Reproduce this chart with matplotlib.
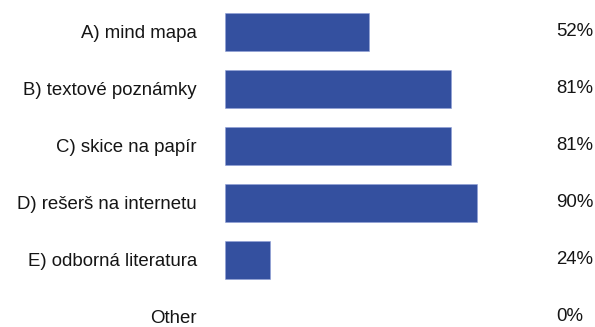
import matplotlib
matplotlib.use("Agg")
import matplotlib.pyplot as plt
import matplotlib.transforms as mtransforms

categories = ["A) mind mapa", "B) textové poznámky", "C) skice na papír",
              "D) rešerš na internetu", "E) odborná literatura", "Other"]
percent_labels = [52, 81, 81, 90, 24, 0]
# bar lengths as drawn in the reference (percent units)
bar_lengths = [51.4, 81, 81, 90.1, 16, 0]

plt.rcParams['font.family'] = ['Liberation Sans', 'DejaVu Sans']

W, H = 595, 327
fig = plt.figure(figsize=(W / 100, H / 100), dpi=100)
left_px, width_px = 225.3, 279.0
row_px = 57.0
top_px = 31.7 - 0.5 * row_px
ymin, ymax = -0.5, 5.2
height_px = (ymax - ymin) * row_px
ax = fig.add_axes([left_px / W, 1 - (top_px + height_px) / H, width_px / W, height_px / H])

y = list(range(len(categories)))
edges = ['#8f9fd8' if v > 0 else 'none' for v in bar_lengths]
ax.barh(y, bar_lengths, height=0.667, color='#34509F', edgecolor=edges, linewidth=0.4)
ax.set_xlim(0, 100)
ax.set_ylim(ymax, ymin)
ax.set_yticks(y)
ax.set_yticklabels(categories, fontsize=13.4, color='#151515')
ax.tick_params(axis='y', length=0, pad=20.5)
ax.set_xticks([])
for s in ax.spines.values():
    s.set_visible(False)

trans = mtransforms.blended_transform_factory(ax.transAxes, ax.transData)
for yi, p in zip(y, percent_labels):
    ax.text((556 - left_px) / width_px, yi, f"{p}%", transform=trans,
            ha='left', va='center', fontsize=13.4, color='#151515')

fig.savefig("out.png", dpi=100)
